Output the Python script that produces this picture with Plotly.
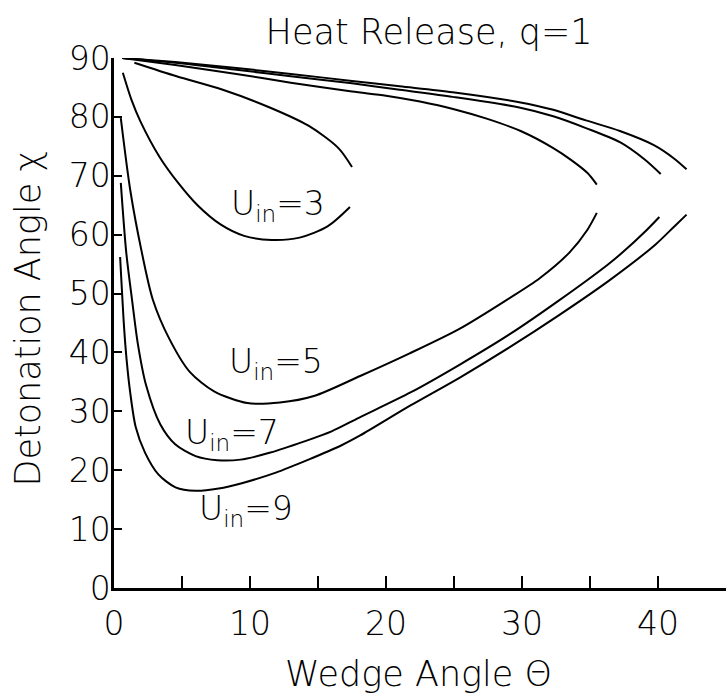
import plotly.graph_objects as go

# ---- data ----
# Wedge angle theta (deg) and detonation angle chi (deg); lower (weak) and upper (strong) branches
u3_lower_theta = [0.65, 1.3, 1.95, 3.35, 4.75, 6.14, 7.86, 9.57, 11.6, 13.65, 15.7, 17.35]
u3_lower_chi = [87.5, 82.8, 79.2, 73.2, 68.7, 65.0, 61.7, 59.8, 59.1, 59.5, 61.4, 64.7]
u3_upper_theta = [1.5, 4.6, 8.0, 11.45, 14.3, 16.5, 17.5]
u3_upper_chi = [89.2, 86.9, 84.6, 81.6, 78.5, 74.7, 71.5]

u5_lower_theta = [0.5, 1.2, 2.0, 2.85, 4.07, 5.57, 7.36, 9.8, 12.2, 14.7, 18.1, 21.7, 25.4, 29.0, 31.3, 33.5, 34.8, 35.5]
u5_lower_chi = [79.8, 67.5, 57.5, 49.0, 42.3, 36.7, 33.4, 31.4, 31.5, 32.6, 36.0, 39.8, 44.0, 49.1, 52.6, 57.0, 60.8, 63.7]
u5_upper_theta = [0.6, 4.5, 9.0, 13.0, 17.5, 20.0, 22.5, 25.0, 27.4, 29.9, 32.3, 33.6, 34.8, 35.5]
u5_upper_chi = [90.0, 88.8, 87.3, 85.8, 84.3, 83.6, 82.6, 81.3, 79.7, 77.6, 74.7, 72.7, 70.5, 68.5]

u7_lower_theta = [0.5, 0.9, 1.35, 1.75, 2.35, 3.4, 4.5, 6.0, 7.6, 9.3, 11.5, 14.0, 16.0, 18.0, 21.8, 25.4, 29.1, 32.7, 36.3, 37.4, 39.0, 40.1]
u7_lower_chi = [68.8, 57.0, 48.5, 41.5, 34.5, 27.8, 24.4, 22.4, 21.7, 21.8, 23.0, 24.9, 26.6, 28.9, 33.2, 37.9, 43.1, 48.8, 54.9, 57.0, 60.4, 63.0]
u7_upper_theta = [0.6, 4.5, 9.0, 13.0, 17.5, 21.0, 24.9, 29.8, 32.3, 34.7, 37.2, 39.0, 40.2]
u7_upper_chi = [90.0, 89.2, 88.0, 86.9, 85.7, 84.6, 83.4, 81.6, 80.1, 78.1, 75.7, 72.8, 70.3]

u9_lower_theta = [0.45, 0.74, 0.93, 1.18, 1.59, 2.28, 3.26, 4.52, 6.0, 7.7, 9.4, 11.9, 14.3, 16.7, 18.1, 21.8, 25.4, 29.1, 32.7, 36.4, 39.8, 41.2, 42.1]
u9_lower_chi = [56.2, 44.3, 38.7, 33.4, 27.4, 23.0, 19.3, 17.1, 16.5, 16.9, 17.8, 19.6, 21.8, 24.2, 25.9, 31.0, 35.7, 40.9, 46.3, 52.2, 58.3, 61.4, 63.4]
u9_upper_theta = [0.6, 4.5, 9.0, 13.0, 17.5, 21.0, 24.9, 29.8, 32.3, 34.7, 37.2, 39.7, 41.2, 42.1]
u9_upper_chi = [90.0, 89.3, 88.3, 87.3, 86.1, 85.2, 84.2, 82.5, 81.2, 79.4, 77.6, 75.2, 72.9, 71.1]

curve_labels = ["U<sub>in</sub>=3", "U<sub>in</sub>=5", "U<sub>in</sub>=7", "U<sub>in</sub>=9"]
label_theta = [8.45, 8.3, 5.05, 6.1]
label_chi = [65.0, 38.2, 26.0, 13.2]

x_tickvals = [0, 10, 20, 30, 40]
x_minor_ticks = [5, 15, 25, 35]
y_tickvals = [0, 10, 20, 30, 40, 50, 60, 70, 80, 90]

title_text = "Heat Release, q=1"
x_title = "Wedge Angle Θ"
y_title = "Detonation Angle χ"

FONT = "DejaVu Sans ExtraLight, DejaVu Sans Light, DejaVu Sans"
FW = 300
FS = 33

fig = go.Figure()
series = [
    (u3_lower_theta, u3_lower_chi), (u3_upper_theta, u3_upper_chi),
    (u5_lower_theta, u5_lower_chi), (u5_upper_theta, u5_upper_chi),
    (u7_lower_theta, u7_lower_chi), (u7_upper_theta, u7_upper_chi),
    (u9_lower_theta, u9_lower_chi), (u9_upper_theta, u9_upper_chi),
]
for xs, ys in series:
    fig.add_trace(go.Scatter(
        x=xs, y=ys, mode="lines",
        line=dict(color="black", width=2, shape="spline", smoothing=0.8),
        showlegend=False, hoverinfo="skip",
    ))

for txt, tx, ty in zip(curve_labels, label_theta, label_chi):
    fig.add_annotation(x=tx, y=ty, xref="x", yref="y", text=txt, showarrow=False,
                       xanchor="left", yanchor="middle",
                       font=dict(family=FONT, size=FS, color="black", weight=FW))

fig.add_annotation(x=0.498, y=-0.163, xref="paper", yref="paper", text=x_title,
                   showarrow=False, xanchor="center", yanchor="middle",
                   font=dict(family=FONT, size=35, color="black", weight=FW))
fig.add_annotation(x=-0.140, y=0.509, xref="paper", yref="paper", text=y_title,
                   showarrow=False, xanchor="center", yanchor="middle", textangle=-90,
                   font=dict(family=FONT, size=35, color="black", weight=FW))

fig.update_layout(
    width=726, height=696,
    margin=dict(l=114, r=0, t=58, b=108),
    paper_bgcolor="white", plot_bgcolor="white",
    title=dict(text=title_text, x=0.591, y=0.955, xanchor="center", yanchor="middle",
               font=dict(family=FONT, size=35, color="black", weight=FW)),
    xaxis=dict(range=[0, 45], showline=True, linecolor="black", linewidth=2.5,
               ticks="inside", ticklen=12, tickwidth=2, tickcolor="black",
               tickvals=x_tickvals, ticklabelstandoff=5,
               minor=dict(tickvals=x_minor_ticks, ticks="inside", ticklen=12,
                          tickwidth=2, tickcolor="black", showgrid=False),
               showgrid=False, zeroline=False,
               tickfont=dict(family=FONT, size=FS, color="black", weight=FW)),
    yaxis=dict(range=[0, 90], showline=True, linecolor="black", linewidth=2.5,
               ticks="inside", ticklen=8, tickwidth=2, tickcolor="black",
               tickvals=y_tickvals, ticklabelstandoff=-6,
               showgrid=False, zeroline=False,
               tickfont=dict(family=FONT, size=FS, color="black", weight=FW)),
)

fig.write_html("out.html")
